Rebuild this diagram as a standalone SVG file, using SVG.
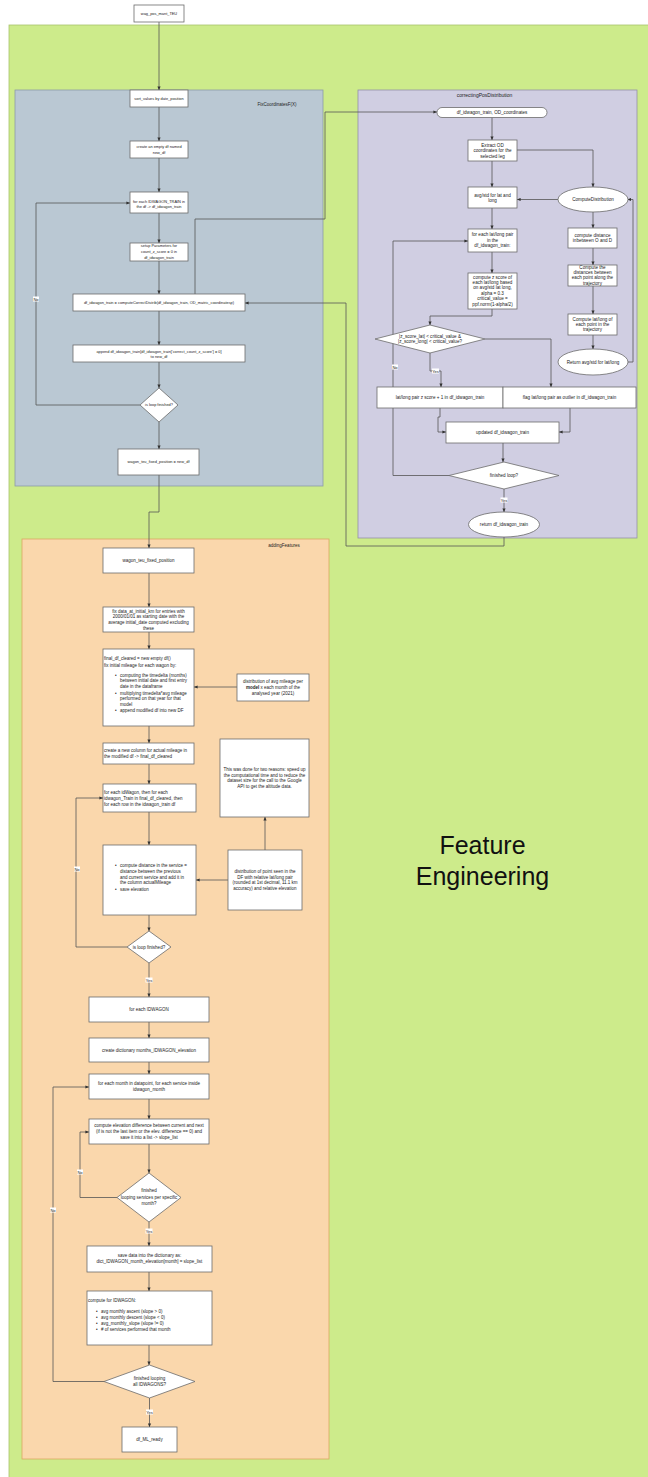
<svg xmlns="http://www.w3.org/2000/svg" width="648" height="1477" viewBox="0 0 648 1477">
  <defs>
    <marker id="arr" markerWidth="4" markerHeight="4" refX="3.6" refY="2" orient="auto" markerUnits="userSpaceOnUse">
      <path d="M0,0.4 L3.8,2 L0,3.6 Z" fill="#333"/>
    </marker>
    <style>
      .n { fill:#fff; stroke:#6b6b6b; stroke-width:0.8; }
      .e { fill:none; stroke:#555; stroke-width:0.8; marker-end:url(#arr); }
      .p { fill:none; stroke:#555; stroke-width:0.8; }
      text { font-family:"Liberation Sans", Arial, sans-serif; fill:#222; }
      .f { font-size:3.9px; text-anchor:middle; }
      .c { font-size:4.6px; text-anchor:middle; }
      .a { font-size:4.5px; text-anchor:middle; }
      .l { font-size:4.5px; text-anchor:start; }
      .lbl { fill:#fff; }
      .big { font-size:25px; text-anchor:middle; fill:#111; }
    </style>
  </defs>

  <!-- background lanes -->
  <rect x="9" y="25" width="645" height="1460" fill="#cdeb8b" stroke="#a9c36d" stroke-width="0.8"/>
  <rect x="15" y="90" width="308" height="396" fill="#bac8d3" stroke="#8d9ba7" stroke-width="0.8"/>
  <text x="277" y="105.5" class="a">FixCoordinatesF(X)</text>
  <rect x="358" y="90" width="279" height="448" fill="#d0cee2" stroke="#9391a8" stroke-width="0.8"/>
  <text x="484.5" y="97" style="font-size:5px;text-anchor:middle">correctingPosDistribution</text>
  <rect x="22" y="539" width="307" height="920" fill="#fad7ac" stroke="#d9a860" stroke-width="0.8"/>
  <text x="284" y="546.5" class="a">addingFeatures</text>
  <text x="482.5" y="854" class="big">Feature</text>
  <text x="482.5" y="885" class="big">Engineering</text>

  <!-- connectors -->
  <g id="connectors">
    <path class="e" d="M159,22 V90"/>
    <path class="e" d="M159,107 V141"/>
    <path class="e" d="M159,158 V192"/>
    <path class="e" d="M159,213 V243"/>
    <path class="e" d="M159,261 V294"/>
    <path class="e" d="M159,311 V345"/>
    <path class="e" d="M159,362 V388"/>
    <path class="e" d="M159,422 V449"/>
    <path class="e" d="M140,405 H36 V203 H130"/>
    <path class="e" d="M195,294 V219 H325 V112 H437"/>
    <path class="e" d="M504,537 V546 H346 V303 H245"/>
    <path class="e" d="M159,475 V512 H149 V548"/>

    <path class="e" d="M492,117.5 V140"/>
    <path class="e" d="M517,150 H593 V187"/>
    <path class="e" d="M492,161 V187"/>
    <path class="e" d="M558,199.5 H517"/>
    <path class="e" d="M492,208 V229"/>
    <path class="e" d="M593,212 V228"/>
    <path class="e" d="M593,248 V265"/>
    <path class="e" d="M593,286 V314"/>
    <path class="e" d="M593,335 V349"/>
    <path class="e" d="M628,362 H633 V199.5 H627.5"/>
    <path class="e" d="M492,252 V273"/>
    <path class="e" d="M492,309 V316 H430 V325"/>
    <path class="e" d="M430,353 V371 H441 V387"/>
    <path class="e" d="M485,339 H551 V387"/>
    <path class="e" d="M449,475.5 H393 V241 H468"/>
    <path class="e" d="M440,408 V417 H438 V432 H446"/>
    <path class="e" d="M570,408 V432 H559"/>
    <path class="e" d="M503,443 V462"/>
    <path class="e" d="M504,489 V512"/>

    <path class="e" d="M149,573 V607"/>
    <path class="e" d="M149,632 V649"/>
    <path class="e" d="M237,687 H194"/>
    <path class="e" d="M149,726 V743"/>
    <path class="e" d="M149,764 V784"/>
    <path class="e" d="M149,812 V845"/>
    <path class="e" d="M228,880 H196"/>
    <path class="e" d="M265,850 V817"/>
    <path class="e" d="M149,915 V931"/>
    <path class="e" d="M127,947 H76 V798 H103"/>
    <path class="e" d="M149,963 V997"/>
    <path class="e" d="M149,1022 V1038"/>
    <path class="e" d="M149,1062 V1074"/>
    <path class="e" d="M149,1099 V1119"/>
    <path class="e" d="M149,1144 V1173"/>
    <path class="e" d="M117,1197.5 H80 V1132 H89"/>
    <path class="e" d="M149,1222 V1246"/>
    <path class="e" d="M149,1272 V1291"/>
    <path class="e" d="M149,1345 V1365"/>
    <path class="e" d="M104,1381.5 H53 V1087 H89"/>
    <path class="e" d="M149.5,1398 V1427"/>

    <!-- edge labels -->
    <rect class="lbl" x="33" y="296.5" width="6" height="5"/>
    <text x="36" y="300.5" class="a" style="font-size:4px">No</text>
    <rect class="lbl" x="432" y="368.5" width="7" height="5"/>
    <text x="435.5" y="372.5" class="a" style="font-size:4px">Yes</text>
    <rect class="lbl" x="392" y="364.5" width="6" height="5"/>
    <text x="395" y="368.5" class="a" style="font-size:4px">No</text>
    <rect class="lbl" x="500.5" y="497.5" width="7" height="5"/>
    <text x="504" y="501.5" class="a" style="font-size:4px">Yes</text>
    <rect class="lbl" x="74" y="866.5" width="6" height="5"/>
    <text x="77" y="870.5" class="a" style="font-size:4px">No</text>
    <rect class="lbl" x="145.5" y="977.5" width="7" height="5"/>
    <text x="149" y="981.5" class="a" style="font-size:4px">Yes</text>
    <rect class="lbl" x="77" y="1169.5" width="6" height="5"/>
    <text x="80" y="1173.5" class="a" style="font-size:4px">No</text>
    <rect class="lbl" x="50" y="1207.5" width="6" height="5"/>
    <text x="53" y="1211.5" class="a" style="font-size:4px">No</text>
    <rect class="lbl" x="145.5" y="1228.5" width="7" height="5"/>
    <text x="149" y="1232.5" class="a" style="font-size:4px">Yes</text>
    <rect class="lbl" x="146" y="1409.5" width="7" height="5"/>
    <text x="149.5" y="1413.5" class="a" style="font-size:4px">Yes</text>
  </g>

  <!-- FixCoordinatesF(X) nodes -->
  <g id="start">
    <rect class="n" x="134" y="5" width="50" height="17"/>
    <text x="159" y="15" class="f">wag_pos_mant_TEU</text>
  </g>
  <g id="sortValues">
    <rect class="n" x="130" y="90" width="58" height="17"/>
    <text x="159" y="100" class="f">sort_values by date_position</text>
  </g>
  <g id="createEmpty">
    <rect class="n" x="130" y="141" width="58" height="17"/>
    <text x="159" y="148.3" class="f">create an empty df named</text>
    <text x="159" y="154.1" class="f">new_df</text>
  </g>
  <g id="forEachTrain">
    <rect class="n" x="130" y="192" width="58" height="21"/>
    <text x="159" y="202.5" class="f">for each IDWAGON_TRAIN in</text>
    <text x="159" y="208.4" class="f">the df -&gt; df_idwagon_train</text>
  </g>
  <g id="setupParams">
    <rect class="n" x="130" y="243" width="58" height="18"/>
    <text x="159" y="247.3" class="f">setup Parameters for</text>
    <text x="159" y="253.2" class="f">count_z_score = 0 in</text>
    <text x="159" y="259.1" class="f">df_idwagon_train</text>
  </g>
  <g id="computeCorrect">
    <rect class="n" x="73" y="294" width="172" height="17"/>
    <text x="159" y="304" class="f">df_idwagon_train = computeCorrectDistrib(df_idwagon_train, OD_matric_coordinatesp)</text>
  </g>
  <g id="appendNewDf">
    <rect class="n" x="73" y="345" width="172" height="17"/>
    <text x="159" y="352.6" class="f">append df_idwagon_train[df_idwagon_train['correct_count_z_score'] = 0]</text>
    <text x="159" y="358.4" class="f">to new_df</text>
  </g>
  <g id="loopFinished1">
    <path class="n" d="M159,388 L178,405 L159,422 L140,405 Z"/>
    <text x="159" y="406.4" class="f">is loop finished?</text>
  </g>
  <g id="fixedPosition">
    <rect class="n" x="118" y="449" width="81" height="26"/>
    <text x="158.5" y="463.4" class="f">wagon_teu_fixed_position = new_df</text>
  </g>

  <!-- correctingPosDistribution nodes -->
  <g id="inputPill">
    <rect class="n" x="437" y="107.5" width="110" height="10" rx="5"/>
    <text x="492" y="114.2" class="c">df_idwagon_train, OD_coordinates</text>
  </g>
  <g id="extractOD">
    <rect class="n" x="468" y="140" width="49" height="21"/>
    <text x="492.5" y="146.8" class="c">Extract OD</text>
    <text x="492.5" y="152.2" class="c">coordinates for the</text>
    <text x="492.5" y="157.6" class="c">selected leg</text>
  </g>
  <g id="avgStd">
    <rect class="n" x="468" y="187" width="49" height="21"/>
    <text x="492.5" y="196.6" class="c">avg/std for lat and</text>
    <text x="492.5" y="202" class="c">long</text>
  </g>
  <g id="computeDistribution">
    <ellipse class="n" cx="593" cy="199.5" rx="35" ry="12.5"/>
    <text x="593" y="201.1" class="c">ComputeDistribution</text>
  </g>
  <g id="forEachPair">
    <rect class="n" x="468" y="229" width="49" height="23"/>
    <text x="492.5" y="236.3" class="c">for each lat/long pair</text>
    <text x="492.5" y="241.7" class="c">in the</text>
    <text x="492.5" y="247.1" class="c">df_idwagon_train:</text>
  </g>
  <g id="zScore">
    <rect class="n" x="468" y="273" width="49" height="36"/>
    <text x="492.5" y="278.6" class="c">compute z score of</text>
    <text x="492.5" y="284" class="c">each lat/long based</text>
    <text x="492.5" y="289.4" class="c">on avg/std lat long,</text>
    <text x="492.5" y="294.8" class="c">alpha = 0.3</text>
    <text x="492.5" y="300.2" class="c">critical_value =</text>
    <text x="492.5" y="305.6" class="c">ppf.norm(1-alpha/2)</text>
  </g>
  <g id="distOD">
    <rect class="n" x="568" y="228" width="49" height="20"/>
    <text x="592.5" y="237" class="c">compute distance</text>
    <text x="592.5" y="242.4" class="c">inbetween O and D</text>
  </g>
  <g id="distPoints">
    <rect class="n" x="568" y="265" width="49" height="21"/>
    <text x="592.5" y="268.6" class="c">Compute the</text>
    <text x="592.5" y="274" class="c">distances between</text>
    <text x="592.5" y="279.4" class="c">each point along the</text>
    <text x="592.5" y="284.8" class="c">trajectory</text>
  </g>
  <g id="latLongPoints">
    <rect class="n" x="568" y="314" width="49" height="21"/>
    <text x="592.5" y="320.6" class="c">Compute lat/long of</text>
    <text x="592.5" y="326" class="c">each point in the</text>
    <text x="592.5" y="331.4" class="c">trajectory</text>
  </g>
  <g id="returnAvgStd">
    <ellipse class="n" cx="593" cy="362" rx="35" ry="13"/>
    <text x="593" y="363.6" class="c">Return avg/std for lat/long</text>
  </g>
  <g id="criticalCheck">
    <path class="n" d="M430,325 L485,339 L430,353 L375,339 Z"/>
    <text x="430" y="337.5" class="c">|z_score_lat| &lt; critical_value &amp;</text>
    <text x="430" y="342.9" class="c">|z_score_long| &lt; critical_value?</text>
  </g>
  <g id="zPlusOne">
    <rect class="n" x="377" y="387" width="126" height="21"/>
    <text x="440" y="399.1" class="c">lat/long pair z score + 1 in df_idwagon_train</text>
  </g>
  <g id="flagOutlier">
    <rect class="n" x="503" y="387" width="133" height="21"/>
    <text x="569.5" y="399.1" class="c">flag lat/long pair as outlier in df_idwagon_train</text>
  </g>
  <g id="updatedTrain">
    <rect class="n" x="446" y="422" width="113" height="21"/>
    <text x="502.5" y="434.1" class="c">updated df_idwagon_train</text>
  </g>
  <g id="finishedLoop">
    <path class="n" d="M504,462 L559,475.5 L504,489 L449,475.5 Z"/>
    <text x="504" y="477.1" class="c">finished loop?</text>
  </g>
  <g id="returnTrain">
    <ellipse class="n" cx="504" cy="524.5" rx="35.5" ry="12.5"/>
    <text x="504" y="526.1" class="c">return df_idwagon_train</text>
  </g>

  <!-- addingFeatures nodes -->
  <g id="wagonFixed">
    <rect class="n" x="103" y="548" width="91" height="25"/>
    <text x="148.5" y="562" class="a">wagon_teu_fixed_position</text>
  </g>
  <g id="fixInitialKm">
    <rect class="n" x="103" y="607" width="91" height="25"/>
    <text x="148.5" y="612.6" class="a">fix data_at_initial_km for entries with</text>
    <text x="148.5" y="618.3" class="a">2000/01/01 as starting date with the</text>
    <text x="148.5" y="624" class="a">average initial_date computed excluding</text>
    <text x="148.5" y="629.7" class="a">these</text>
  </g>
  <g id="finalDfCleared">
    <rect class="n" x="103" y="649" width="91" height="77"/>
    <text x="104" y="659.9" class="l">final_df_cleared = new empty df()</text>
    <text x="104" y="666.6" class="l">fix initial mileage for each wagon by:</text>
    <text x="115" y="677.3" class="l">•</text>
    <text x="120" y="677.3" class="l">computing the timedelta (months)</text>
    <text x="120" y="682.3" class="l">between initial date and first entry</text>
    <text x="120" y="687.6" class="l">date in the dataframe</text>
    <text x="115" y="694.9" class="l">•</text>
    <text x="120" y="694.9" class="l"> multiplying timedelta*avg mileage</text>
    <text x="120" y="700.3" class="l">performed on that year for that</text>
    <text x="120" y="705.6" class="l">model</text>
    <text x="115" y="712.3" class="l">•</text>
    <text x="120" y="712.3" class="l">append modified df into new DF</text>
  </g>
  <g id="avgMileage">
    <rect class="n" x="237" y="674" width="72" height="27"/>
    <text x="273" y="683.3" class="a">distribution of avg mileage per</text>
    <text x="273" y="689" class="a"><tspan font-weight="bold">model</tspan> x each month of the</text>
    <text x="273" y="694.7" class="a">analysed year (2021)</text>
  </g>
  <g id="newColumn">
    <rect class="n" x="103" y="743" width="91" height="21"/>
    <text x="104" y="752.3" class="l">create a new column for actual mileage in</text>
    <text x="104" y="758.3" class="l">the modified df -&gt; final_df_cleared</text>
  </g>
  <g id="reasonNote">
    <rect class="n" x="220" y="739" width="89" height="78"/>
    <text x="264.5" y="770.9" class="a">This was done for two reasons: speed up</text>
    <text x="264.5" y="776.6" class="a">the computational time and to reduce the</text>
    <text x="264.5" y="782.3" class="a">dataset size for the call to the Google</text>
    <text x="264.5" y="788" class="a">API to get the altitude data.</text>
  </g>
  <g id="forEachIdWagon">
    <rect class="n" x="103" y="784" width="93" height="28"/>
    <text x="104" y="793.9" class="l">for each idWagon, then for each</text>
    <text x="104" y="799.6" class="l">idwagon_Train in final_df_cleared, then</text>
    <text x="104" y="805.6" class="l">for each row in the idwagon_train df</text>
  </g>
  <g id="computeServiceDist">
    <rect class="n" x="103" y="845" width="93" height="70"/>
    <text x="115" y="867.3" class="l">•</text>
    <text x="120" y="867.3" class="l">compute distance in the service =</text>
    <text x="120" y="872.9" class="l">distance between the previous</text>
    <text x="120" y="878.6" class="l">and current service and add it in</text>
    <text x="120" y="884.3" class="l">the column actualMileage</text>
    <text x="115" y="890.6" class="l">•</text>
    <text x="120" y="890.6" class="l">save elevation</text>
  </g>
  <g id="pointDistribution">
    <rect class="n" x="228" y="850" width="74" height="60"/>
    <text x="265" y="872.9" class="a">distribution of point seen in the</text>
    <text x="265" y="878.6" class="a">DF with relative lat/long pair</text>
    <text x="265" y="884.3" class="a">(rounded at 1st decimal, 11.1 km</text>
    <text x="265" y="890.3" class="a">accuracy) and relative elevation</text>
  </g>
  <g id="loopFinished2">
    <path class="n" d="M149,931 L171,947 L149,963 L127,947 Z"/>
    <text x="149" y="948.6" class="a">is loop finished?</text>
  </g>
  <g id="forEachIDWAGON">
    <rect class="n" x="89" y="997" width="120" height="25"/>
    <text x="149" y="1011.1" class="a">for each IDWAGON</text>
  </g>
  <g id="createDictionary">
    <rect class="n" x="89" y="1038" width="120" height="24"/>
    <text x="149" y="1051.6" class="a">create dictionary months_IDWAGON_elevation</text>
  </g>
  <g id="forEachMonth">
    <rect class="n" x="89" y="1074" width="120" height="25"/>
    <text x="149" y="1085.2" class="a">for each month in datapoint, for each service inside</text>
    <text x="149" y="1091.4" class="a">idwagon_month</text>
  </g>
  <g id="elevationDiff">
    <rect class="n" x="89" y="1119" width="120" height="25"/>
    <text x="149" y="1127.2" class="a">compute elevation difference between current and next</text>
    <text x="149" y="1133" class="a">(if is not the last item or the elev. difference == 0) and</text>
    <text x="149" y="1138.8" class="a">save it into a list -&gt; slope_list</text>
  </g>
  <g id="finishedServices">
    <path class="n" d="M149,1173 L181,1197.5 L149,1222 L117,1197.5 Z"/>
    <text x="149" y="1192.3" class="a">finished</text>
    <text x="149" y="1198.6" class="a">looping services per specific</text>
    <text x="149" y="1204.9" class="a">month?</text>
  </g>
  <g id="saveDictionary">
    <rect class="n" x="87" y="1246" width="125" height="26"/>
    <text x="149.5" y="1257.3" class="a">save data into the dictionary as:</text>
    <text x="149.5" y="1263.3" class="a">dict_IDWAGON_month_elevation[month] = slope_list</text>
  </g>
  <g id="computeForIdWagon">
    <rect class="n" x="87" y="1291" width="125" height="54"/>
    <text x="88" y="1301.6" class="l">compute for IDWAGON:</text>
    <text x="96" y="1313.3" class="l">•</text>
    <text x="101" y="1313.3" class="l">avg monthly ascent (slope &gt; 0)</text>
    <text x="96" y="1318.9" class="l">•</text>
    <text x="101" y="1318.9" class="l">avg monthly descent (slope &lt; 0)</text>
    <text x="96" y="1324.9" class="l">•</text>
    <text x="101" y="1324.9" class="l">avg_monthly_slope (slope != 0)</text>
    <text x="96" y="1330.6" class="l">•</text>
    <text x="101" y="1330.6" class="l"># of services performed that month</text>
  </g>
  <g id="finishedAllWagons">
    <path class="n" d="M149.5,1365 L195,1381.5 L149.5,1398 L104,1381.5 Z"/>
    <text x="149.5" y="1379.9" class="a">finished looping</text>
    <text x="149.5" y="1385.6" class="a">all IDWAGONS?</text>
  </g>
  <g id="mlReady">
    <rect class="n" x="122" y="1427" width="55" height="25"/>
    <text x="149.5" y="1441.1" class="a">df_ML_ready</text>
  </g>
</svg>
